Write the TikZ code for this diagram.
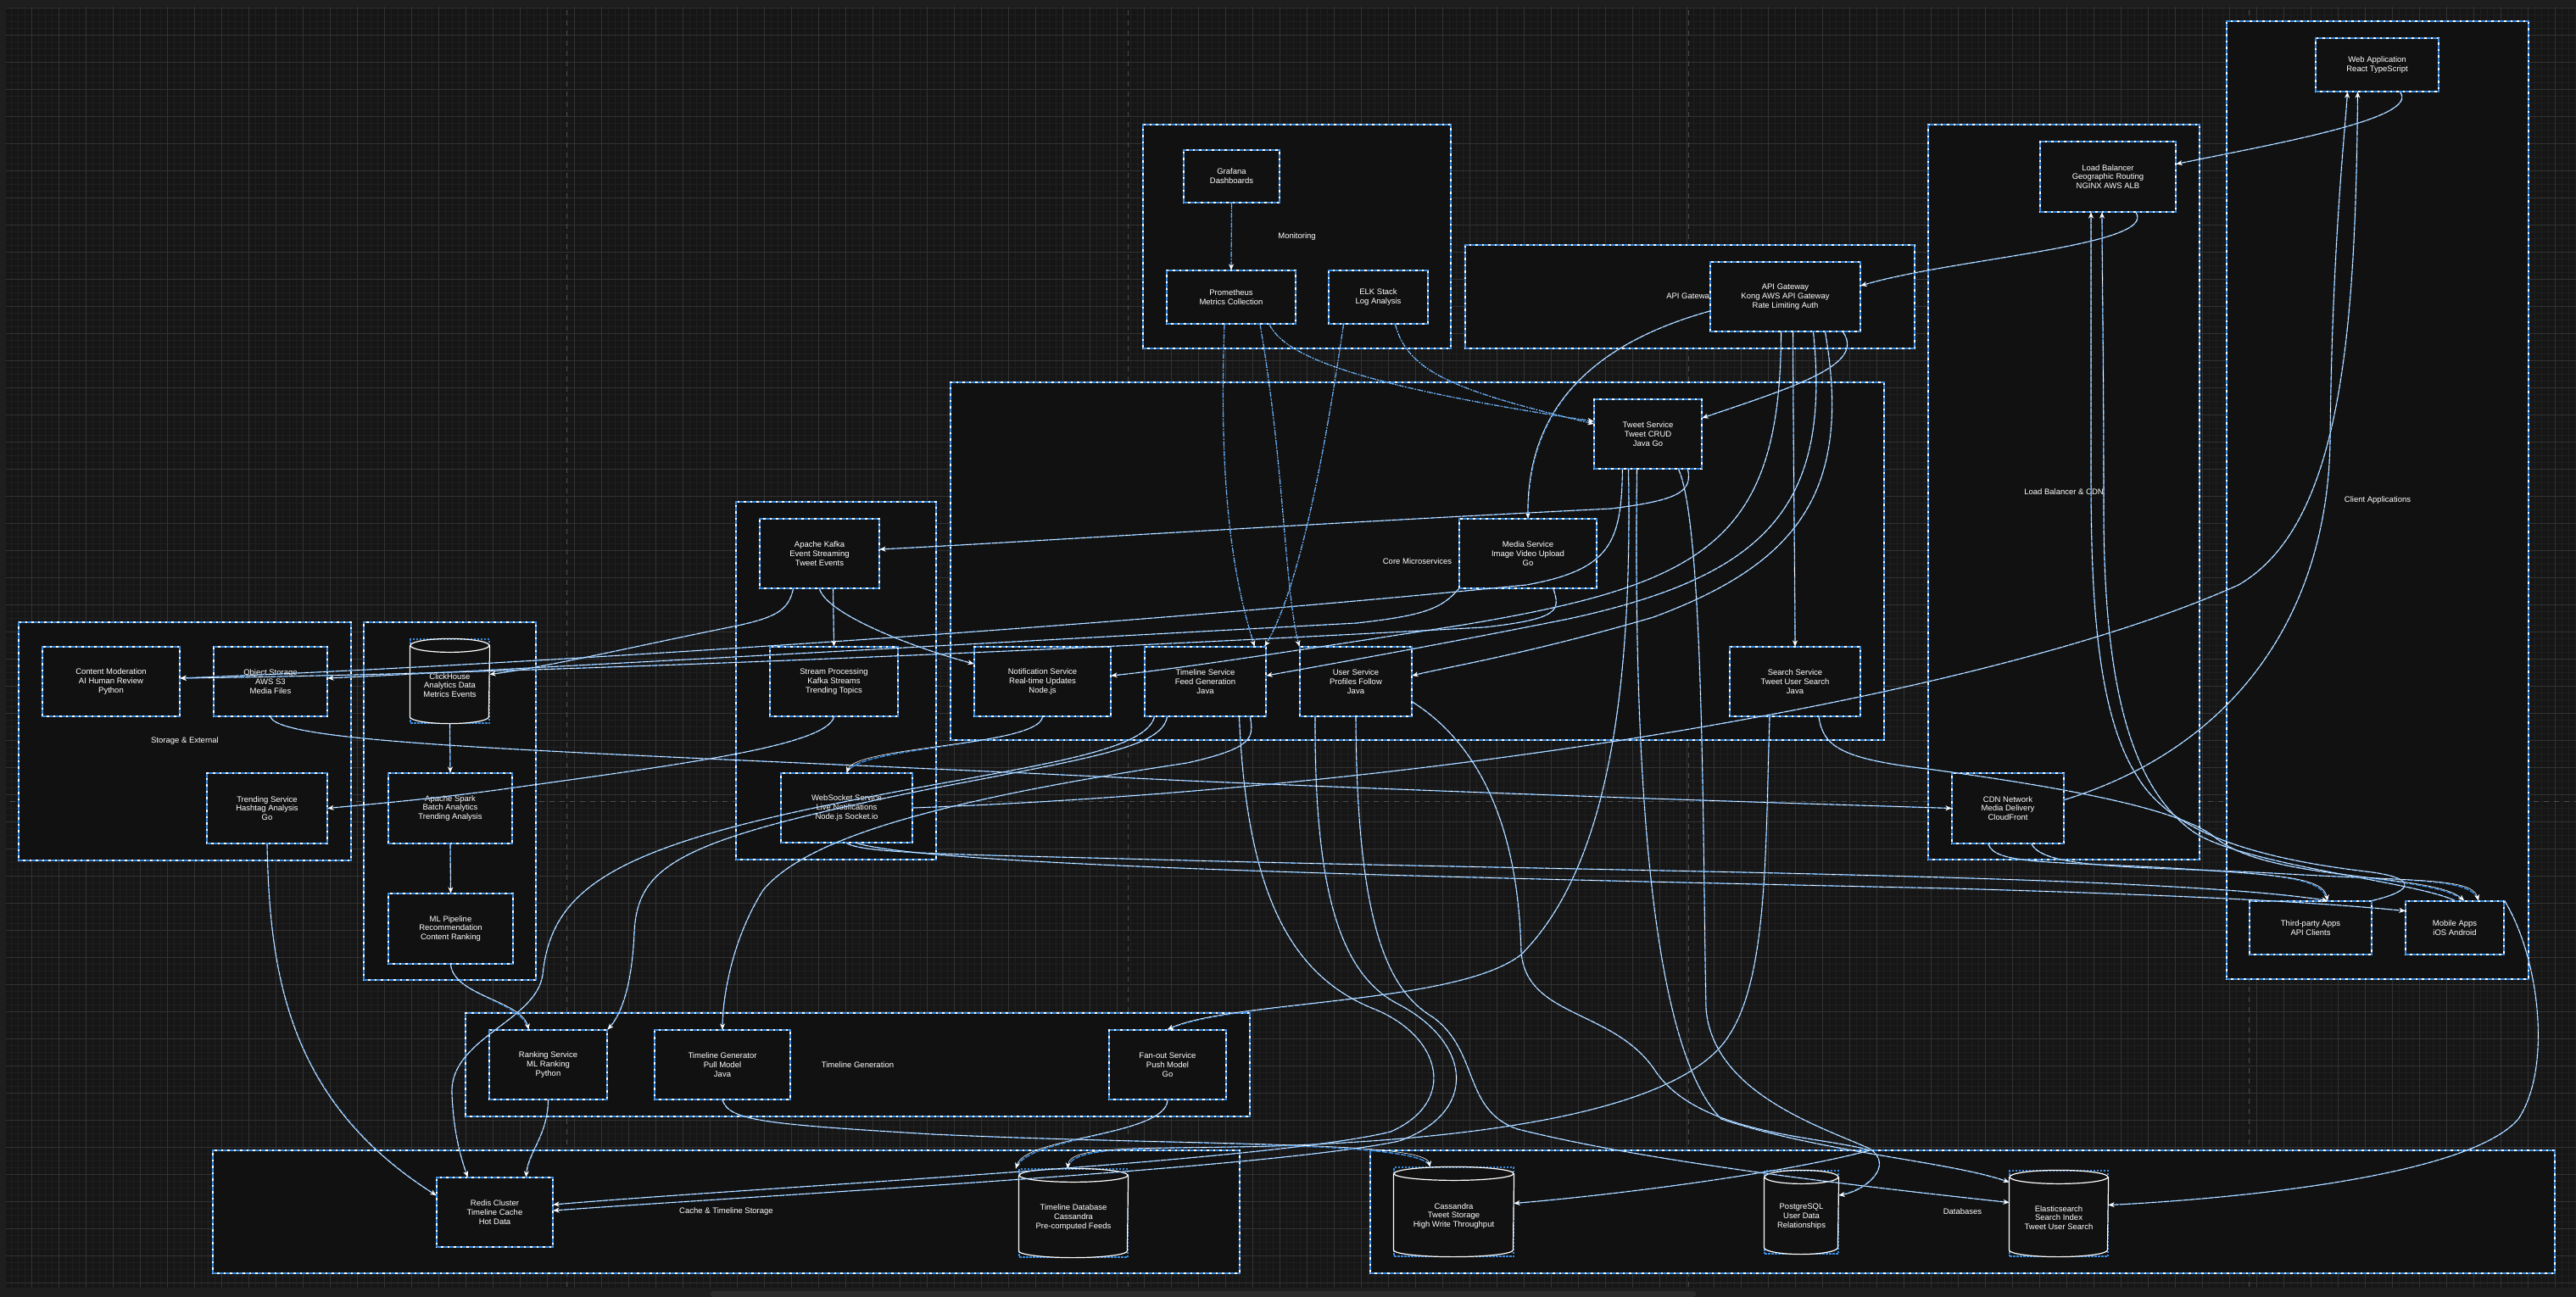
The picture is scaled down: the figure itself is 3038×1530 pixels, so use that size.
\documentclass[tikz,border=0pt]{standalone}
\usepackage{fontspec}
\setmainfont{Liberation Sans}
\usetikzlibrary{arrows.meta}
\definecolor{bgbase}{HTML}{161616}
\definecolor{gminor}{HTML}{1F1F1F}
\definecolor{gmajor}{HTML}{323232}
\definecolor{nodebg}{HTML}{111111}
\definecolor{cblue}{HTML}{3A8CE0}
\definecolor{pageline}{HTML}{4A4A4A}
\definecolor{stripc}{HTML}{1E1E1E}
\definecolor{scrollc}{HTML}{2C2C2C}
\newcommand\nfont{\fontsize{9.5}{10.8}\selectfont}
\tikzset{
  boxst/.style={rectangle, fill=nodebg, draw=white, line width=1.2pt, text=white, font=\nfont, align=center, inner sep=0pt,
     postaction={draw=cblue, line width=1.2pt, dash pattern=on 5pt off 2.5pt}},
  cylst/.style={rectangle, draw=cblue, line width=1.2pt, dash pattern=on 2.5pt off 1.5pt, inner sep=0pt, fill=nodebg},
  lbl/.style={text=white, font=\nfont, inner sep=0pt},
  cw/.style={draw=white, line width=0.6pt, -{Stealth[length=7pt,width=6pt,color=white]}},
  cb/.style={draw=cblue, line width=1.5pt, dash pattern=on 6pt off 1.5pt},
  mw/.style={draw=white, line width=0.6pt, dash pattern=on 1pt off 2pt, -{Stealth[length=7pt,width=6pt,color=white]}},
  mb/.style={draw=cblue, line width=1.4pt, dash pattern=on 6pt off 2pt on 1.5pt off 2pt},
}
\newcommand\cn[1]{\draw[cb] #1; \draw[cw] #1;}
\newcommand\mn[1]{\draw[mb] #1; \draw[mw] #1;}
\newcommand\bx[6]{\node[boxst, minimum width=#4pt, minimum height=#5pt] (#1) at (#2,#3) {#6};}
\newcommand\cyl[7]{%
  \node[cylst, minimum width=#4pt, minimum height=#5pt] (#1) at (#2,#3) {};
  \draw[white, line width=1.2pt, fill=nodebg] ([yshift=-8pt]#1.north west) -- ([yshift=8pt]#1.south west) arc[start angle=180, end angle=360, x radius=#6pt, y radius=8pt] -- ([yshift=-8pt]#1.north east);
  \draw[white, line width=1.2pt] ([yshift=-8pt]#1.north) ellipse [x radius=#6pt, y radius=8pt];
  \node[lbl, align=center] at ([yshift=-5pt]#1.center) {#7};}
\begin{document}
\begin{tikzpicture}[x=1pt,y=-1pt]
\useasboundingbox (0,0) rectangle (3038,1530);
\fill[bgbase] (0,0) rectangle (3038,1530);
\foreach \x in {5,13,...,3037} \draw[gminor, line width=0.5pt] (\x,0) -- (\x,1530);
\foreach \y in {1,9,...,1529} \draw[gminor, line width=0.5pt] (0,\y) -- (3038,\y);
\foreach \x in {5,37,...,3037} \draw[gmajor, line width=0.7pt] (\x,0) -- (\x,1530);
\foreach \y in {9,41,...,1529} \draw[gmajor, line width=0.7pt] (0,\y) -- (3038,\y);
\foreach \x in {668,1330,1991,2652} \draw[pageline, line width=1pt, dash pattern=on 6pt off 6pt] (\x,0) -- (\x,1530);
\draw[pageline, line width=1pt, dash pattern=on 6pt off 6pt] (0,945) -- (3038,945);
\fill[stripc] (0,0) rectangle (3038,8);
\fill[stripc] (0,0) rectangle (7,1530);
\fill[stripc] (0,1519) rectangle (3038,1530);
\fill[scrollc, rounded corners=3pt] (838,1523) rectangle (2000,1530);

% groups
\bx{client}{2804}{590}{356}{1130}{}
\bx{lbcdn}{2434}{580.5}{320}{867}{}
\bx{gwg}{1993}{350}{530}{122}{}
\bx{mon}{1529.5}{279}{363}{264}{}
\bx{core}{1671.5}{662}{1101}{422}{}
\bx{mq}{986}{803}{236}{422}{}
\bx{storage}{218}{874.5}{392}{281}{}
\bx{analytics}{530.5}{945}{203}{422}{}
\bx{tlg}{1011.5}{1256}{925}{122}{}
\bx{cache}{856.5}{1429.5}{1211}{145}{}
\bx{dbg}{2314.5}{1429.5}{1397}{145}{}
\node[lbl] at (client.center) {Client Applications};
\node[lbl] at (lbcdn.center) {Load Balancer \& CDN};
\node[lbl] at (gwg.center) {API Gateway};
\node[lbl] at (mon.center) {Monitoring};
\node[lbl] at (core.center) {Core Microservices};
\node[lbl] at (storage.center) {Storage \& External};
\node[lbl] at (tlg.center) {Timeline Generation};
\node[lbl] at (cache.center) {Cache \& Timeline Storage};
\node[lbl] at (dbg.center) {Databases};

% nodes
\bx{web}{2803.5}{76.5}{145}{63}{Web Application\\React TypeScript}
\bx{mobile}{2895}{1094.5}{116}{63}{Mobile Apps\\iOS Android}
\bx{third}{2725}{1094.5}{144}{63}{Third-party Apps\\API Clients}
\bx{lb}{2486}{208.5}{160}{83}{Load Balancer\\Geographic Routing\\NGINX AWS ALB}
\bx{cdn}{2368}{953.5}{132}{83}{CDN Network\\Media Delivery\\CloudFront}
\bx{gw}{2105.5}{350}{177}{82}{API Gateway\\Kong AWS API Gateway\\Rate Limiting Auth}
\bx{tweet}{1943.5}{512}{127}{82}{Tweet Service\\Tweet CRUD\\Java Go}
\bx{user}{1599}{804}{132}{82}{User Service\\Profiles Follow\\Java}
\bx{tls}{1421.5}{804}{143}{82}{Timeline Service\\Feed Generation\\Java}
\bx{search}{2117}{804}{154}{82}{Search Service\\Tweet User Search\\Java}
\bx{notif}{1229.5}{804}{161}{82}{Notification Service\\Real-time Updates\\Node.js}
\bx{media}{1802}{653}{162}{82}{Media Service\\Image Video Upload\\Go}
\bx{kafka}{966.5}{653}{141}{82}{Apache Kafka\\Event Streaming\\Tweet Events}
\bx{stream}{983.5}{804}{151}{82}{Stream Processing\\Kafka Streams\\Trending Topics}
\bx{ws}{998.5}{953}{155}{82}{WebSocket Service\\Live Notifications\\Node.js Socket.io}
\bx{fanout}{1377}{1256}{138}{82}{Fan-out Service\\Push Model\\Go}
\bx{tgen}{852}{1256}{160}{82}{Timeline Generator\\Pull Model\\Java}
\bx{rank}{646.5}{1256}{139}{82}{Ranking Service\\ML Ranking\\Python}
\bx{redis}{583.5}{1430}{137}{82}{Redis Cluster\\Timeline Cache\\Hot Data}
\bx{spark}{531}{953.5}{146}{83}{Apache Spark\\Batch Analytics\\Trending Analysis}
\bx{ml}{531.5}{1095.5}{147}{83}{ML Pipeline\\Recommendation\\Content Ranking}
\bx{s3}{319}{804}{134}{82}{Object Storage\\AWS S3\\Media Files}
\bx{trend}{315}{953.5}{142}{83}{Trending Service\\Hashtag Analysis\\Go}
\bx{mod}{131}{804}{162}{82}{Content Moderation\\AI Human Review\\Python}
\bx{prom}{1452}{350.5}{152}{63}{Prometheus\\Metrics Collection}
\bx{graf}{1452.5}{208}{113}{62}{Grafana\\Dashboards}
\bx{elk}{1625.5}{350.5}{117}{63}{ELK Stack\\Log Analysis}
\cyl{tldb}{1266}{1431}{128}{104}{64}{Timeline Database\\Cassandra\\Pre-computed Feeds}
\cyl{cass}{1714.5}{1429.5}{141}{105}{70.5}{Cassandra\\Tweet Storage\\High Write Throughput}
\cyl{pg}{2124.5}{1430}{87}{98}{43.5}{PostgreSQL\\User Data\\Relationships}
\cyl{es}{2428}{1431.5}{116}{101}{58}{Elasticsearch\\Search Index\\Tweet User Search}
\cyl{ch}{530.5}{803.5}{93}{99}{46.5}{ClickHouse\\Analytics Data\\Metrics Events}

% client / LB / CDN
\cn{([xshift=27pt]web.south) .. controls (2855,140) and (2680,170) .. ([yshift=15pt]lb.east)}
\cn{([xshift=33pt]lb.south) .. controls (2545,290) and (2300,305) .. ([yshift=13pt]gw.east)}
\cn{([yshift=10pt]cdn.east) .. controls (2640,880) and (2745,720) .. (2748,520) .. controls (2750,300) and (2765,160) .. ([xshift=-35pt]web.south)}
\cn{(ws.east) .. controls (1700,930) and (2350,820) .. (2640,690) .. controls (2760,620) and (2778,400) .. ([xshift=-23pt]web.south)}
\cn{(s3.south) .. controls (330,880) and (700,887) .. (1400,921) .. controls (1900,942) and (2200,950) .. (cdn.west)}
\cn{(mobile.north) .. controls (2850,1040) and (2640,1020) .. (2585,980) .. controls (2510,925) and (2481,800) .. (2481,600) .. controls (2481,420) and (2479,320) .. ([xshift=-7pt]lb.south)}
\cn{(third.north east) .. controls (2850,1050) and (2850,1035) .. (2790,1028) .. controls (2640,1010) and (2555,975) .. (2520,915) .. controls (2472,840) and (2466,700) .. (2466,560) .. controls (2466,420) and (2466,320) .. ([xshift=-20pt]lb.south)}
\cn{([xshift=28pt]cdn.south) .. controls (2410,1025) and (2520,1022) .. (2680,1030) .. controls (2850,1040) and (2915,1035) .. ([xshift=28pt]mobile.north)}
\cn{([xshift=-23pt]cdn.south) .. controls (2352,1020) and (2420,1016) .. (2560,1024) .. controls (2690,1032) and (2740,1035) .. ([xshift=20pt]third.north)}
\cn{(ws.south) .. controls (1020,1008) and (1150,1008) .. (1400,1015) .. controls (1900,1028) and (2550,1032) .. ([xshift=20pt]third.north)}
\cn{([xshift=12pt]ws.south) .. controls (1100,1022) and (1700,1035) .. (2300,1048) .. controls (2650,1058) and (2770,1068) .. ([yshift=20pt]mobile.west)}
\cn{([xshift=28pt]search.south) .. controls (2150,880) and (2170,895) .. (2273,907) .. controls (2480,935) and (2580,960) .. (2615,990) .. controls (2680,1040) and (2870,1030) .. ([xshift=11pt]mobile.north)}
\cn{(mobile.north east) .. controls (2995,1130) and (3010,1260) .. (2970,1320) .. controls (2910,1390) and (2620,1415) .. ([yshift=10pt]es.east)}

% gateway
\cn{([xshift=68pt]gw.south) .. controls (2200,430) and (2120,455) .. ([yshift=19pt]tweet.east)}
\cn{([yshift=-17pt]gw.west) .. controls (1880,405) and (1800,480) .. (media.north)}
\cn{([xshift=9pt]gw.south) .. controls (2115,550) and (2117,700) .. (search.north)}
\cn{([xshift=-5pt]gw.south) .. controls (2100,640) and (2010,690) .. (1720,738) .. controls (1500,772) and (1380,790) .. ([yshift=7pt]notif.east)}
\cn{([xshift=33pt]gw.south) .. controls (2160,600) and (2080,680) .. (1850,730) .. controls (1700,760) and (1560,785) .. ([yshift=7pt]tls.east)}
\cn{([xshift=47pt]gw.south) .. controls (2185,580) and (2120,665) .. (1950,728) .. controls (1800,772) and (1700,788) .. ([yshift=7pt]user.east)}

% tweet service
\cn{([xshift=47pt]tweet.south) .. controls (1996,580) and (1980,590) .. (1900,600) .. controls (1500,620) and (1200,640) .. ([yshift=5pt]kafka.east)}
\cn{([xshift=-30pt]tweet.south) .. controls (1912,640) and (1900,672) .. (1800,690) .. controls (1300,740) and (600,785) .. ([yshift=4pt]mod.east)}
\cn{([xshift=-23pt]tweet.south) .. controls (1925,800) and (1900,1020) .. (1794,1126) .. controls (1720,1185) and (1450,1180) .. (fanout.north)}
\cn{([xshift=-13pt]tweet.south) .. controls (1925,1000) and (1960,1250) .. (2030,1320) .. controls (2150,1360) and (2300,1370) .. ([yshift=37pt]es.west)}
\cn{([xshift=36pt]tweet.south) .. controls (2010,620) and (2008,1000) .. (2012,1190) .. controls (2020,1290) and (2150,1330) .. (2205,1355) .. controls (2235,1375) and (2200,1405) .. ([yshift=20pt]pg.east)}

% media
\cn{(media.south west) .. controls (1700,718) and (1680,726) .. (1600,735) .. controls (1100,762) and (600,790) .. ([yshift=4pt]s3.east)}
\cn{([xshift=30pt]media.south) .. controls (1840,720) and (1840,730) .. (1750,740) .. controls (1200,770) and (600,795) .. ([yshift=4pt]mod.east)}

% kafka / streaming
\cn{([xshift=-31pt]kafka.south) .. controls (930,720) and (915,728) .. (870,738) .. controls (750,762) and (650,786) .. ([yshift=8pt]ch.east)}
\cn{([xshift=16pt]kafka.south) -- (stream.north)}
\cn{(kafka.south) .. controls (975,725) and (1080,765) .. ([yshift=21pt]notif.west)}
\cn{(notif.south) .. controls (1225,880) and (1010,880) .. (ws.north)}
\cn{(stream.south) .. controls (975,880) and (800,902) .. (600,930) .. controls (500,944) and (420,950) .. (trend.east)}
\cn{(ch.south) -- (spark.north)}
\cn{(spark.south) -- (ml.north)}
\cn{(ml.south) .. controls (535,1175) and (615,1180) .. ([xshift=-23pt]rank.north)}

% timeline service
\cn{([xshift=-60pt]tls.south) .. controls (1350,890) and (1200,905) .. (1000,945) .. controls (720,1000) and (650,1050) .. (640,1150) .. controls (632,1205) and (530,1225) .. (533,1290) .. controls (535,1340) and (545,1370) .. ([xshift=-32pt]redis.north)}
\cn{([xshift=-45pt]tls.south) .. controls (1370,880) and (1300,892) .. (1100,930) .. controls (800,990) and (752,1020) .. (748,1100) .. controls (745,1170) and (730,1200) .. (rank.north east)}
\cn{([xshift=53pt]tls.south) .. controls (1478,870) and (1480,882) .. (1400,900) .. controls (1100,945) and (950,990) .. (900,1050) .. controls (862,1110) and (852,1180) .. (tgen.north)}
\cn{([xshift=40pt]tls.south) .. controls (1470,1050) and (1520,1150) .. (1620,1190) .. controls (1700,1222) and (1720,1300) .. (1640,1335) .. controls (1500,1370) and (900,1400) .. ([yshift=9pt]redis.east)}

% user service
\cn{([xshift=-48pt]user.south) .. controls (1550,1050) and (1580,1150) .. (1650,1185) .. controls (1735,1230) and (1745,1312) .. (1650,1346) .. controls (1500,1378) and (900,1410) .. ([yshift=2pt]redis.east)}
\cn{(user.south) .. controls (1600,1100) and (1640,1170) .. (1690,1200) .. controls (1745,1240) and (1725,1310) .. (1790,1332) .. controls (1950,1372) and (2200,1400) .. ([yshift=13pt]es.west)}
\cn{([yshift=-24pt]user.east) .. controls (1780,900) and (1792,1050) .. (1794,1123) .. controls (1800,1200) and (1900,1190) .. (1950,1260) .. controls (2000,1340) and (2150,1340) .. (2205,1357) .. controls (2100,1385) and (1900,1410) .. ([yshift=10pt]cass.east)}

% search
\cn{([xshift=-30pt]search.south) .. controls (2082,1000) and (2085,1150) .. (2040,1220) .. controls (1980,1320) and (1700,1345) .. (1500,1352) .. controls (1350,1356) and (1262,1350) .. ([xshift=-7pt]tldb.north)}

% timeline generation
\cn{(fanout.south) .. controls (1375,1340) and (1210,1340) .. ([xshift=-68pt]tldb.north)}
\cn{(rank.south) .. controls (646,1340) and (622,1360) .. ([xshift=37pt]redis.north)}
\cn{(trend.south) .. controls (318,1150) and (340,1300) .. ([yshift=20pt]redis.west)}
\cn{(tgen.south) .. controls (860,1322) and (900,1326) .. (1100,1338) .. controls (1400,1352) and (1680,1345) .. ([xshift=-28pt]cass.north)}

% monitoring
\mn{(graf.south) -- (prom.north)}
\mn{([xshift=-8pt]prom.south) .. controls (1436,600) and (1460,700) .. ([xshift=58pt]tls.north)}
\mn{([xshift=-41pt]elk.south) .. controls (1560,550) and (1530,700) .. ([xshift=70pt]tls.north)}
\mn{([xshift=34pt]prom.south) .. controls (1515,550) and (1515,700) .. (user.north west)}
\mn{([xshift=45pt]prom.south) .. controls (1515,420) and (1600,455) .. ([yshift=15pt]tweet.west)}
\mn{([xshift=20pt]elk.south) .. controls (1660,440) and (1720,462) .. ([yshift=12pt]tweet.west)}
\end{tikzpicture}
\end{document}
